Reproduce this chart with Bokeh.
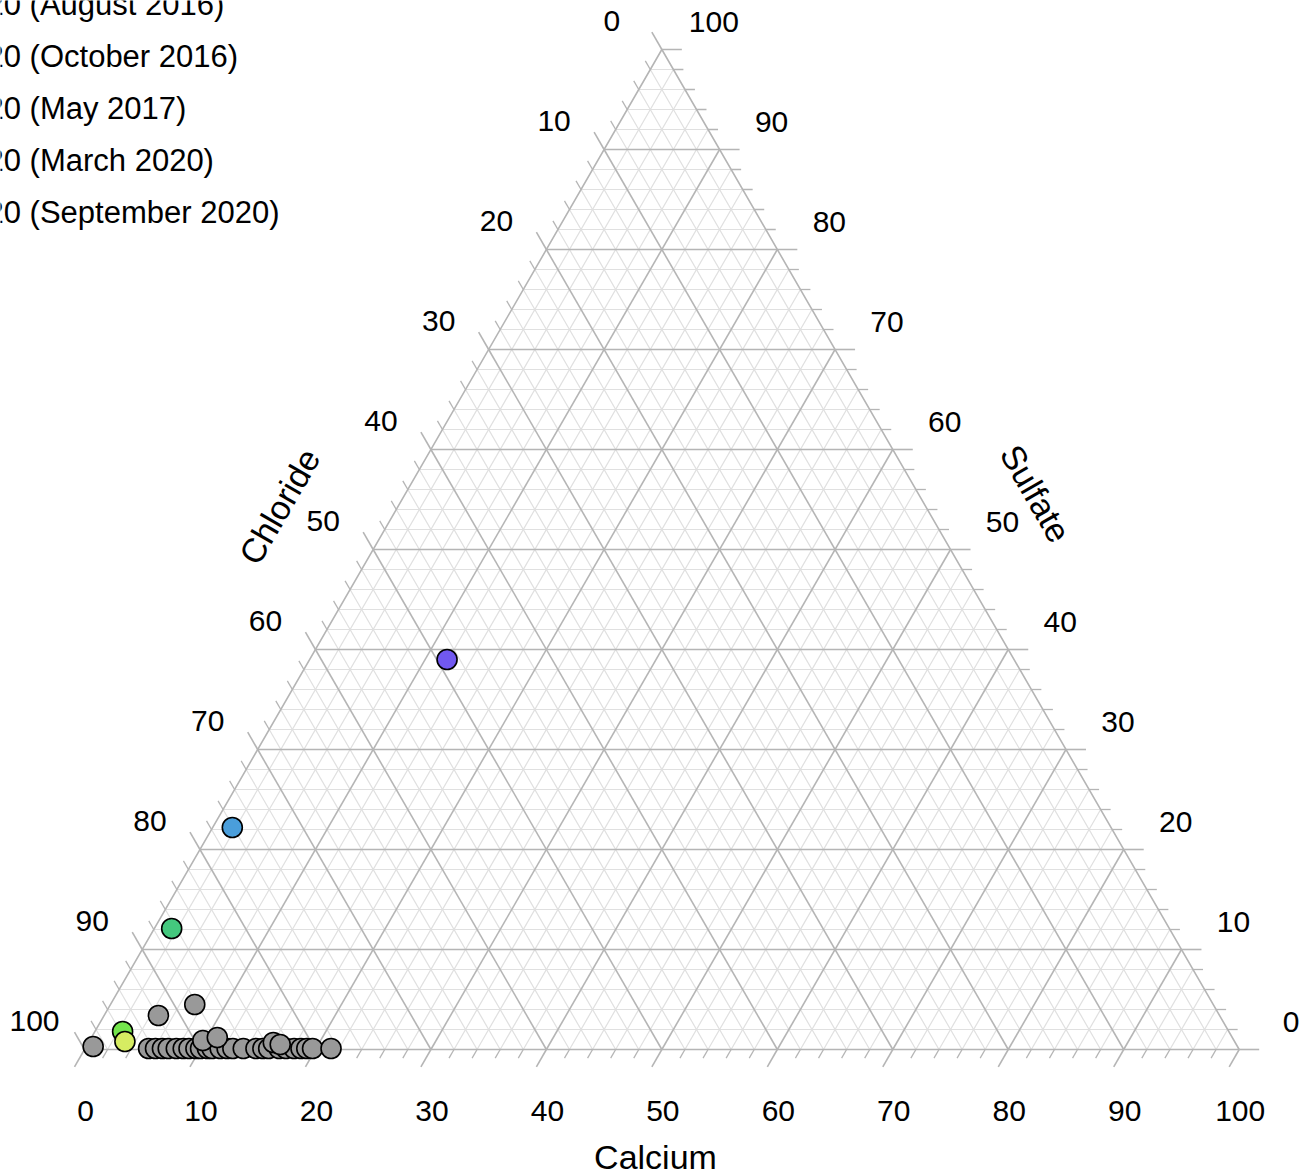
import math
from bokeh.plotting import figure
from bokeh.models import Range1d
from bokeh.core.properties import value
from bokeh.embed import file_html
from bokeh.resources import INLINE

# ---------------- data (percent) ----------------
legend_labels = ["20 (August 2016)", "20 (October 2016)", "20 (May 2017)",
                 "20 (March 2020)", "20 (September 2020)"]
sample_colors = ["#7158f0", "#4a9edb", "#44c87e", "#74e54c", "#d6ec62"]
sample_calcium = [11.9, 1.7, 1.5, 2.4, 3.1]
sample_sulfate = [39.0, 22.2, 12.1, 1.8, 0.8]
sample_chloride = [49.1, 76.1, 86.4, 95.8, 96.1]

other_calcium = [0.6, 4.7, 7.3,
                 5.5, 6.1, 6.7, 7.2, 7.9, 8.5, 9.0, 9.6, 10.0, 10.6, 11.0, 11.7,
                 12.3, 12.8, 13.7, 14.8, 15.4, 15.9, 16.8, 17.4, 18.1, 18.7, 19.2,
                 19.7, 21.3,
                 9.8, 10.9, 16.0, 16.7]
other_sulfate = [0.3, 3.4, 4.5,
                 0.1, 0.1, 0.1, 0.1, 0.1, 0.1, 0.1, 0.1, 0.1, 0.1, 0.1, 0.1,
                 0.1, 0.1, 0.1, 0.1, 0.1, 0.1, 0.1, 0.1, 0.1, 0.1, 0.1,
                 0.1, 0.1,
                 0.9, 1.2, 0.7, 0.5]
other_chloride = [99.1, 91.9, 88.2,
                  94.4, 93.8, 93.2, 92.7, 92.0, 91.4, 90.9, 90.3, 89.9, 89.3, 88.9, 88.2,
                  87.6, 87.1, 86.2, 85.1, 84.5, 84.0, 83.1, 82.5, 81.8, 81.2, 80.7,
                  80.2, 78.6,
                  89.3, 87.9, 83.3, 82.8]

tick_values = list(range(0, 101, 10))
axis_titles = ["Calcium", "Chloride", "Sulfate"]

# ---------------- geometry ----------------
S = math.sqrt(3) / 2
PX = 11.547            # pixels per percent
W, H = 1314, 1176
CX, CY = 0, 0          # page position of the canvas origin
OX, OY = 84 - CX, 1049 - CY   # canvas pixel position of the bottom-left vertex
FONT = value("Liberation Sans")
MAJOR = "#b5b5b5"
MINOR = "#e0e0e0"


def tern(ca, so4):
    return ca + so4 / 2.0, so4 * S


def px(dx, dy):
    # pixel offset (screen, y down) -> data offset
    return dx / PX, -dy / PX


def page(xp, yp):
    return (xp - CX - OX) / PX, (OY - (yp - CY)) / PX


p = figure(width=W, height=H,
           x_range=Range1d(-OX / PX, (W - OX) / PX),
           y_range=Range1d(-(H - OY) / PX, OY / PX),
           output_backend="svg", toolbar_location=None, min_border=0,
           x_axis_location=None, y_axis_location=None)
p.grid.visible = False
p.outline_line_color = None
p.background_fill_color = "white"
p.border_fill_color = "white"

# ---------------- grid ----------------
def grid_segments(levels):
    xs0, ys0, xs1, ys1 = [], [], [], []
    for v in levels:
        a = tern(0, v); b = tern(100 - v, v)
        xs0 += [a[0]]; ys0 += [a[1]]; xs1 += [b[0]]; ys1 += [b[1]]
        a = tern(v, 0); b = tern(v, 100 - v)
        xs0 += [a[0]]; ys0 += [a[1]]; xs1 += [b[0]]; ys1 += [b[1]]
        a = tern(100 - v, 0); b = tern(0, 100 - v)
        xs0 += [a[0]]; ys0 += [a[1]]; xs1 += [b[0]]; ys1 += [b[1]]
    return xs0, ys0, xs1, ys1

minor_levels = [v for v in range(2, 100, 2) if v % 10 != 0]
major_levels = [v for v in range(10, 100, 10)]
g = grid_segments(minor_levels)
p.segment(x0=g[0], y0=g[1], x1=g[2], y1=g[3], line_color=MINOR, line_width=1.2)
g = grid_segments(major_levels)
p.segment(x0=g[0], y0=g[1], x1=g[2], y1=g[3], line_color=MAJOR, line_width=1.6)

ex = [tern(0, 0)[0], tern(100, 0)[0], tern(0, 100)[0], tern(0, 0)[0]]
ey = [tern(0, 0)[1], tern(100, 0)[1], tern(0, 100)[1], tern(0, 0)[1]]
p.line(ex, ey, line_color=MAJOR, line_width=1.6)

# ---------------- ticks ----------------
tx0, ty0, tx1, ty1, tw = [], [], [], [], []
for v in range(0, 101, 2):
    L = 20 if v % 10 == 0 else 10
    wdt = 1.6 if v % 10 == 0 else 1.3
    a = tern(v, 0); d = px(-0.5 * L, S * L)
    tx0.append(a[0]); ty0.append(a[1]); tx1.append(a[0] + d[0]); ty1.append(a[1] + d[1]); tw.append(wdt)
    a = tern(100 - v, v); d = px(L, 0)
    tx0.append(a[0]); ty0.append(a[1]); tx1.append(a[0] + d[0]); ty1.append(a[1] + d[1]); tw.append(wdt)
    a = tern(0, 100 - v); d = px(-0.5 * L, -S * L)
    tx0.append(a[0]); ty0.append(a[1]); tx1.append(a[0] + d[0]); ty1.append(a[1] + d[1]); tw.append(wdt)
p.segment(x0=tx0, y0=ty0, x1=tx1, y1=ty1, line_color=MAJOR, line_width=tw)

# ---------------- tick labels ----------------
lx, ly, lt = [], [], []
for v in tick_values:
    a = tern(v, 0); d = px(1, 61)
    lx.append(a[0] + d[0]); ly.append(a[1] + d[1]); lt.append(str(v))
    a = tern(100 - v, v); d = px(52, -28)
    lx.append(a[0] + d[0]); ly.append(a[1] + d[1]); lt.append(str(v))
    a = tern(0, 100 - v); d = px(-50, -29)
    lx.append(a[0] + d[0]); ly.append(a[1] + d[1]); lt.append(str(v))
p.text(x=lx, y=ly, text=lt, text_font=FONT, text_font_size="30px",
       text_align="center", text_baseline="middle", text_color="black")

# ---------------- axis titles ----------------
t_pos = [page(655, 1156), page(279, 506), page(1035, 493)]
t_ang = [0, math.pi / 3, -math.pi / 3]
p.text(x=[q[0] for q in t_pos], y=[q[1] for q in t_pos], text=axis_titles,
       angle=t_ang, text_font=FONT, text_font_size="34px",
       text_align="center", text_baseline="middle", text_color="black")

# ---------------- points ----------------
ox, oy = zip(*[tern(c, s) for c, s in zip(other_calcium, other_sulfate)])
p.scatter(list(ox), list(oy), size=20, fill_color="#999999",
          line_color="black", line_width=1.6)
sx, sy = zip(*[tern(c, s) for c, s in zip(sample_calcium, sample_sulfate)])
p.scatter(list(sx), list(sy), size=20, fill_color=sample_colors,
          line_color="black", line_width=1.6)

# ---------------- legend (partly outside the page) ----------------
leg_y = [4, 56, 108, 160, 212]
lp = [page(-14, yy) for yy in leg_y]
p.text(x=[q[0] for q in lp], y=[q[1] for q in lp], text=legend_labels,
       text_font=FONT, text_font_size="31px", text_align="left",
       text_baseline="middle", text_color="black")

open("out.html", "w").write(file_html(p, INLINE))
